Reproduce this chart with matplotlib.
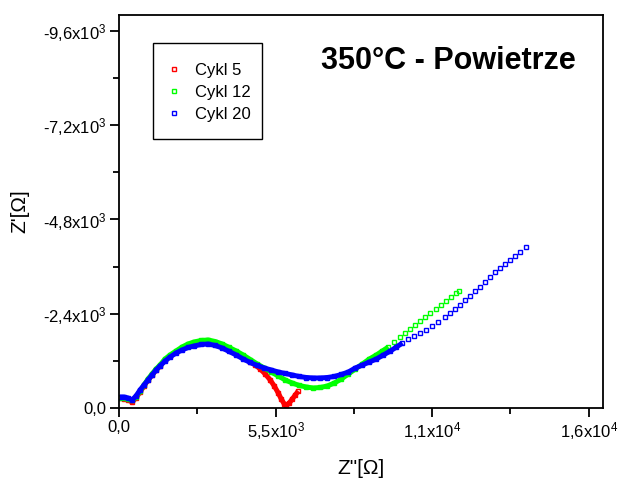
import numpy as np
import matplotlib
matplotlib.use("Agg")
import matplotlib.pyplot as plt
from matplotlib.patches import Rectangle
from matplotlib.ticker import FixedLocator, FixedFormatter, MultipleLocator

plt.rcParams['font.family'] = ['Liberation Sans', 'DejaVu Sans']
plt.rcParams['mathtext.default'] = 'regular'

# Nyquist data: Z'' (real part, x) and Z' (imaginary part, y) in ohms
cykl5_x = [35, 176, 317, 457, 598, 739, 880, 1020, 1161, 1302, 1442, 1618, 1794, 2005,
           2216, 2427, 2639, 2885, 3131, 3377, 3624, 3870, 4116, 4362, 4609, 4784, 4960,
           5136, 5312, 5453, 5594, 5699, 5805, 5875, 5981, 6086, 6192, 6297]
cykl5_y = [-255, -229, -204, -153, -255, -407, -560, -713, -840, -967, -1069, -1222,
           -1323, -1425, -1514, -1578, -1629, -1667, -1680, -1641, -1578, -1489, -1400,
           -1298, -1183, -1094, -993, -865, -713, -560, -382, -229, -102, -64, -127,
           -229, -331, -433]

cykl12_x = [35, 176, 317, 457, 598, 739, 880, 1020, 1161, 1302, 1442, 1618, 1794, 2005,
            2216, 2427, 2639, 2885, 3131, 3377, 3624, 3870, 4116, 4362, 4609, 4855, 5101,
            5347, 5594, 5840, 6086, 6332, 6579, 6825, 7071, 7317, 7564, 7810, 8056, 8302,
            8549, 8795, 9041, 9252, 9463, 9675, 9886, 10061, 10237, 10413, 10589, 10765,
            10941, 11117, 11293, 11469, 11645, 11821, 11926]
cykl12_y = [-267, -255, -229, -191, -280, -433, -585, -738, -865, -993, -1094, -1247,
            -1349, -1451, -1552, -1629, -1680, -1718, -1731, -1692, -1629, -1540, -1451,
            -1349, -1234, -1120, -1018, -916, -814, -713, -636, -573, -534, -509, -522,
            -560, -636, -738, -865, -993, -1120, -1247, -1349, -1451, -1552, -1680, -1807,
            -1909, -2011, -2112, -2214, -2316, -2418, -2520, -2621, -2723, -2825, -2927,
            -2978]

cykl20_x = [35, 176, 317, 457, 598, 739, 880, 1020, 1161, 1302, 1442, 1618, 1794, 2005,
            2216, 2427, 2639, 2885, 3131, 3377, 3624, 3870, 4116, 4362, 4609, 4855, 5101,
            5347, 5594, 5840, 6086, 6332, 6579, 6825, 7071, 7317, 7564, 7810, 8056, 8302,
            8549, 8795, 9041, 9287, 9534, 9745, 9956, 10167, 10378, 10589, 10800, 11011,
            11222, 11434, 11609, 11785, 11961, 12137, 12313, 12489, 12665, 12841, 13017,
            13193, 13368, 13544, 13720, 13896, 14072, 14283]
cykl20_y = [-280, -280, -255, -204, -305, -458, -585, -713, -840, -967, -1069, -1196,
            -1298, -1400, -1476, -1540, -1578, -1616, -1629, -1591, -1527, -1438, -1349,
            -1247, -1158, -1082, -1018, -967, -916, -878, -840, -802, -776, -764, -764,
            -776, -802, -853, -916, -1018, -1094, -1171, -1247, -1349, -1451, -1552, -1654,
            -1756, -1832, -1909, -1985, -2087, -2189, -2316, -2418, -2520, -2621, -2749,
            -2850, -2978, -3079, -3207, -3334, -3461, -3563, -3665, -3767, -3868, -3970,
            -4097]

labels = ['Cykl 5', 'Cykl 12', 'Cykl 20']
colors = ['red', 'lime', 'blue']

x_ticks = [0, 5500, 11000, 16500]
x_tick_labels = ['0,0', r'5,5x10$^{3}$', r'1,1x10$^{4}$', r'1,6x10$^{4}$']
y_ticks = [0, -2400, -4800, -7200, -9600]
y_tick_labels = ['0,0', r'-2,4x10$^{3}$', r'-4,8x10$^{3}$', r'-7,2x10$^{3}$',
                 r'-9,6x10$^{3}$']

fig = plt.figure(figsize=(6.19, 4.80), dpi=100)
ax = fig.add_axes([119 / 619, 72 / 480, (603 - 119) / 619, (408 - 15) / 480])

# the low-frequency points sit so close together that they merge into a band
n_dense = [38, 45, 47]
series = [(cykl5_x, cykl5_y), (cykl12_x, cykl12_y), (cykl20_x, cykl20_y)]
for (xs, ys), lab, col, nd in zip(series, labels, colors, n_dense):
    ax.plot(xs[:nd], ys[:nd], color=col, lw=3.6, solid_capstyle='butt')
    ax.plot(xs, ys, linestyle='none', marker='s', markersize=3.4,
            markerfacecolor='none', markeredgecolor=col, markeredgewidth=1.0,
            label=lab)

ax.set_xlim(0, 17000)
ax.set_ylim(0, -10000)

ax.xaxis.set_major_locator(FixedLocator(x_ticks))
ax.xaxis.set_major_formatter(FixedFormatter(x_tick_labels))
ax.xaxis.set_minor_locator(MultipleLocator(2750))
ax.yaxis.set_major_locator(FixedLocator(y_ticks))
ax.yaxis.set_major_formatter(FixedFormatter(y_tick_labels))
ax.yaxis.set_minor_locator(MultipleLocator(1200))

ax.tick_params(which='both', direction='out', top=False, right=False, width=1.3,
               labelsize=12)
ax.tick_params(which='major', length=6.8, pad=2)
ax.tick_params(which='minor', length=4)
for sp in ax.spines.values():
    sp.set_linewidth(1.3)

ax.set_xlabel('Z"[Ω]', fontsize=15, labelpad=12)
ax.set_ylabel("Z'[Ω]", fontsize=15, labelpad=10)

# legend entries without their own frame, boxed separately
leg = ax.legend(loc='upper left', bbox_to_anchor=(170 / 619, 1 - 63 / 480),
                bbox_transform=fig.transFigure, borderaxespad=0, borderpad=0,
                fontsize=12, frameon=False, handlelength=0.5, handletextpad=1.0,
                labelspacing=0.41)
fig.patches.append(Rectangle((153 / 619, 1 - 139 / 480), 109 / 619, 96 / 480,
                             transform=fig.transFigure, fill=False,
                             edgecolor='black', linewidth=1.0))

fig.text(448 / 619, 1 - 61 / 480, '350°C - Powietrze', fontsize=22,
         fontweight='bold', ha='center', va='center')

fig.savefig('out.png', dpi=100)
